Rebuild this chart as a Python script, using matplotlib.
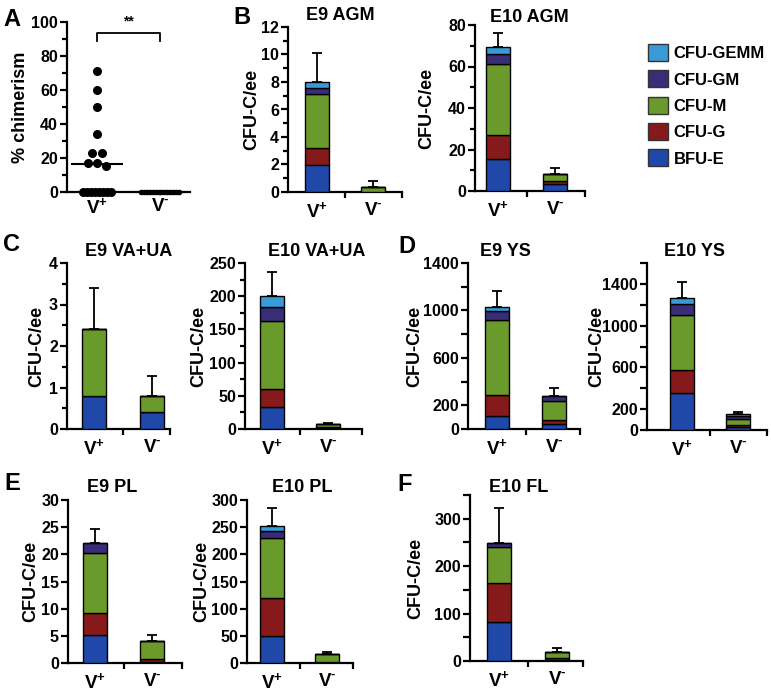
import matplotlib
matplotlib.use('Agg')
import matplotlib.pyplot as plt
import numpy as np
from matplotlib.patches import Patch
from matplotlib.ticker import MultipleLocator, FixedLocator

plt.rcParams['font.family'] = ['Liberation Sans', 'DejaVu Sans']
plt.rcParams['font.weight'] = 'bold'
plt.rcParams['mathtext.fontset'] = 'custom'
plt.rcParams['mathtext.rm'] = 'Liberation Sans:bold'
plt.rcParams['mathtext.bf'] = 'Liberation Sans:bold'

# colony types, bottom to top of each stack
colony_types = ['BFU-E', 'CFU-G', 'CFU-M', 'CFU-GM', 'CFU-GEMM']
colony_colors = ['#1f48a8', '#861a1a', '#6b9a2c', '#3a2d78', '#3a9ad8']
groups = [r'$\mathbf{V}^{\mathbf{+}}$', r'$\mathbf{V}^{\text{-}}$']

# panel A: % chimerism
chim_vpos = [71, 60, 50, 34, 23, 23, 17, 17, 15.5, 0, 0, 0, 0, 0, 0, 0, 0]
chim_vneg = [0] * 14
chim_median = [16.5, 0]

# CFU-C/ee per colony type (V+ / V-), plus error (V+, V-)
e9_agm_vpos = [2.0, 1.2, 3.95, 0.4, 0.45]
e9_agm_vneg = [0, 0, 0.4, 0, 0]
e9_agm_err = [2.1, 0.4]

e10_agm_vpos = [15.3, 11.9, 34.0, 4.8, 3.2]
e10_agm_vneg = [3.5, 1.5, 3.0, 0, 0]
e10_agm_err = [6.8, 3.0]

e9_vaua_vpos = [0.8, 0, 1.6, 0, 0]
e9_vaua_vneg = [0.4, 0, 0.4, 0, 0]
e9_vaua_err = [1.0, 0.48]

e10_vaua_vpos = [33, 27, 103, 20, 17]
e10_vaua_vneg = [2, 1, 5, 0, 0]
e10_vaua_err = [36, 1]

e9_ys_vpos = [113, 170, 640, 75, 27]
e9_ys_vneg = [40, 35, 165, 35, 5]
e9_ys_err = [140, 65]

e10_ys_vpos = [350, 225, 525, 105, 55]
e10_ys_vneg = [25, 20, 65, 25, 15]
e10_ys_err = [160, 25]

e9_pl_vpos = [5.1, 4.1, 11.1, 1.8, 0]
e9_pl_vneg = [0.1, 0.7, 3.2, 0, 0]
e9_pl_err = [2.6, 1.2]

e10_pl_vpos = [50, 70, 110, 13, 9]
e10_pl_vneg = [1, 1, 15, 0, 0]
e10_pl_err = [33, 4]

e10_fl_vpos = [83, 82, 75, 9, 0]
e10_fl_vneg = [3, 3, 14, 0, 0]
e10_fl_err = [73, 7]

W, H = 771, 694
fig = plt.figure(figsize=(W / 100, H / 100), dpi=100)

TICK_FS = 11.5


def px_axes(spine, end, y0, ytop, vp, vm):
    ax = fig.add_axes([spine / W, 1 - y0 / H, (end - spine) / W, (y0 - ytop) / H])
    ax.set_xlim((spine - vp) / (vm - vp), (end - vp) / (vm - vp))
    for s in ['top', 'right']:
        ax.spines[s].set_visible(False)
    for s in ['left', 'bottom']:
        ax.spines[s].set_linewidth(1.6)
    ax.tick_params(axis='y', which='major', length=5, width=1.6, labelsize=TICK_FS, pad=1.5)
    ax.tick_params(axis='y', which='minor', length=3.5, width=1.6)
    ax.set_xticks([0, 1])
    ax.set_xticklabels(groups, fontsize=13.5)
    ax.tick_params(axis='x', which='major', length=0, pad=7)
    return ax


def ylabel_at(ax, text, xpx, spine, end):
    ax.set_ylabel(text, fontsize=13, fontweight='bold')
    ax.yaxis.set_label_coords((xpx + 10 - spine) / (end - spine), 0.5)


def stacked(ax, vpos, vneg, err):
    bottoms = np.zeros(2)
    for k in range(len(colony_types)):
        h = np.array([vpos[k], vneg[k]], dtype=float)
        ax.bar([0, 1], h, width=0.42, bottom=bottoms, color=colony_colors[k],
               edgecolor='black', linewidth=1.0, zorder=3)
        bottoms += h
    ax.errorbar([0, 1], bottoms, yerr=[[0, 0], err], fmt='none', ecolor='black',
                elinewidth=1.3, capsize=3.5, capthick=1.3, zorder=2)
    ax.xaxis.set_minor_locator(FixedLocator([0.5, ax.get_xlim()[1]]))
    ax.tick_params(axis='x', which='minor', length=4, width=1.6)


def swarm(vals, step, maxhalf):
    vals = np.array(vals, dtype=float)
    order = np.argsort(-vals)
    xs = np.zeros(len(vals))
    grp = [order[0]]
    groups_idx = []
    for i in order[1:]:
        if abs(vals[i] - vals[grp[-1]]) <= 2:
            grp.append(i)
        else:
            groups_idx.append(grp)
            grp = [i]
    groups_idx.append(grp)
    for g in groups_idx:
        n = len(g)
        half = min(step * (n - 1) / 2, maxhalf)
        offs = np.linspace(-half, half, n) if n > 1 else [0]
        xs[g] = offs
    return xs, vals


# ---- panel A ----
axA = px_axes(67, 190, 192, 22, 97, 160)
axA.set_ylim(0, 100)
axA.yaxis.set_major_locator(MultipleLocator(20))
axA.yaxis.set_minor_locator(MultipleLocator(10))
axA.tick_params(axis='x', which='major', pad=4)
xo, yv = swarm(chim_vpos, 0.15, 0.22)
axA.scatter(0 + xo, yv, s=30, color='black', zorder=4, clip_on=False)
xo, yv = swarm(chim_vneg, 0.05, 0.3)
axA.scatter(1 + xo, yv, s=9, color='black', zorder=4, clip_on=False)
for i, m in enumerate(chim_median):
    axA.plot([i - 0.4, i + 0.4], [m, m], color='black', lw=1.5, zorder=5, clip_on=False)
axA.plot([0, 0, 1, 1], [89, 93.5, 93.5, 89], color='black', lw=1.3, clip_on=False)
axA.text(0.5, 96, '**', ha='center', va='bottom', fontsize=10, fontweight='bold')
ylabel_at(axA, '% chimerism', 19, 67, 190)

# ---- bar panels ----
panels = [
    # data, layout (spine, end, y0, ytop, vp, vm), ymax, major, minor, labels, ylabel x, title (x, y)
    (e9_agm_vpos, e9_agm_vneg, e9_agm_err, (288, 402, 192, 27, 317, 373), 12, 2, 1, None, 250, 'E9 AGM', 340, 15),
    (e10_agm_vpos, e10_agm_vneg, e10_agm_err, (475, 585, 191, 25, 498, 555), 80, 20, 10, None, 425, 'E10 AGM', 529, 17),
    (e9_vaua_vpos, e9_vaua_vneg, e9_vaua_err, (67, 170, 429, 263, 94, 152), 4, 1, 0.5, None, 35, 'E9 VA+UA', 129, 251),
    (e10_vaua_vpos, e10_vaua_vneg, e10_vaua_err, (245, 362, 429, 263, 272, 328), 250, 50, 25, None, 197, 'E10 VA+UA', 317, 251),
    (e9_ys_vpos, e9_ys_vneg, e9_ys_err, (468, 580, 429, 263, 497, 554), 1400, 200, None,
     ['0', '200', '', '600', '', '1000', '', '1400'], 413, 'E9 YS', 505, 251),
    (e10_ys_vpos, e10_ys_vneg, e10_ys_err, (647, 767, 430, 263, 682, 738), 1600, 200, None,
     ['0', '200', '', '600', '', '1000', '', '1400', ''], 595, 'E10 YS', 694, 251),
    (e9_pl_vpos, e9_pl_vneg, e9_pl_err, (68, 182, 663, 500, 95, 152), 30, 5, None, None, 29, 'E9 PL', 112, 487),
    (e10_pl_vpos, e10_pl_vneg, e10_pl_err, (247, 353, 663, 500, 272, 327), 300, 50, None, None, 200, 'E10 PL', 302, 487),
    (e10_fl_vpos, e10_fl_vneg, e10_fl_err, (470, 583, 661, 495, 499, 557), 350, 50, None,
     ['0', '', '100', '', '200', '', '300', ''], 414, 'E10 FL', 519, 487),
]

for vpos, vneg, err, lay, ymax, major, minor, labels, lx, title, tx, ty in panels:
    ax = px_axes(*lay)
    ax.set_ylim(0, ymax)
    ticks = np.arange(0, ymax + major / 2, major)
    ax.yaxis.set_major_locator(FixedLocator(ticks))
    if labels is not None:
        ax.set_yticklabels(labels)
    if minor:
        ax.yaxis.set_minor_locator(MultipleLocator(minor))
    stacked(ax, vpos, vneg, err)
    ylabel_at(ax, 'CFU-C/ee', lx, lay[0], lay[1])
    fig.text(tx / W, 1 - ty / H, title, ha='center', va='center', fontsize=13, fontweight='bold')

# panel letters
for letter, x, y in [('A', 3, 8), ('B', 233, 6), ('C', 3, 233), ('D', 398, 235),
                     ('E', 4, 472), ('F', 397, 473)]:
    fig.text(x / W, 1 - y / H, letter, ha='left', va='top', fontsize=17, fontweight='bold')

# legend, top entry first
handles = [Patch(facecolor=c, edgecolor='#333333', linewidth=1.0) for c in colony_colors[::-1]]
fig.legend(handles, colony_types[::-1], loc='upper left', bbox_to_anchor=(648 / W, 1 - 44 / H),
           frameon=False, prop={'size': 12, 'weight': 'bold'}, handlelength=1.2, handleheight=1.2,
           handletextpad=0.35, labelspacing=0.55, borderaxespad=0, borderpad=0)

fig.savefig('out.png', dpi=100)
